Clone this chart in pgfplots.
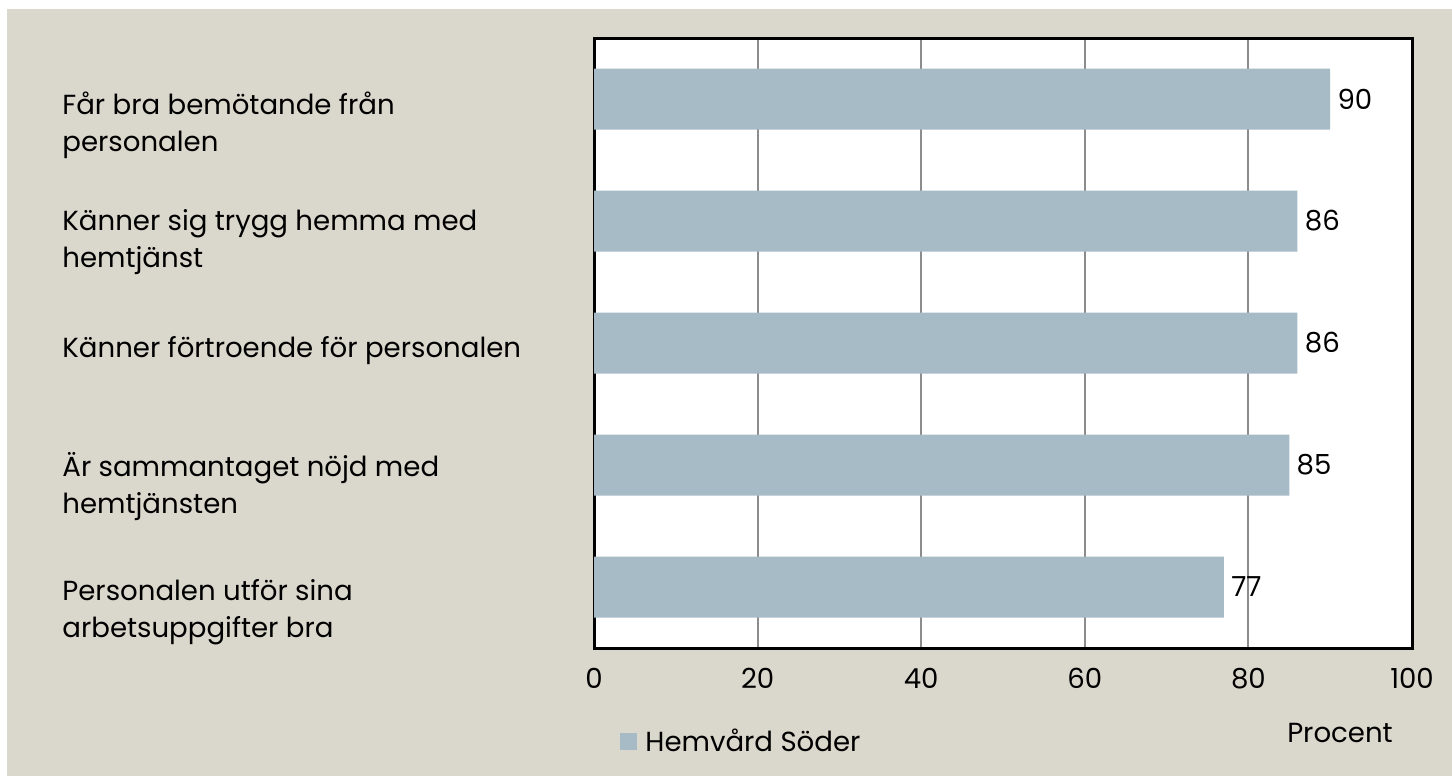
\documentclass[border=0pt]{standalone}
\usepackage{pgfplots}
\pgfplotsset{compat=1.18}
\usepackage{fontspec}
\setmainfont{Poppins}
\definecolor{bgcol}{HTML}{DAD8CC}
\definecolor{barcol}{HTML}{A7BBC7}
\definecolor{gridcol}{HTML}{8C8C8C}
\newcommand{\lblfont}{\fontsize{13.8}{18.5}\selectfont}
\begin{document}
\begin{tikzpicture}[x=0.5pt,y=0.5pt]
  % page and background
  \fill[white] (0,0) rectangle (1452,776);
  \fill[bgcol] (7,0) rectangle (1452,767);
  \begin{axis}[
    at={(297pt,64pt)}, anchor=south west,
    scale only axis, width=409pt, height=305pt,
    xbar, bar width=0.5,
    xmin=0, xmax=100, ymin=-0.5, ymax=4.5,
    y dir=reverse,
    ytick=\empty,
    xtick={0,20,40,60,80,100},
    xmajorgrids, grid style={gridcol, line width=1pt},
    major tick length=0pt,
    axis line style={line width=1.5pt, black},
    axis background/.style={fill=white},
    /pgf/number format/assume math mode=true,
    xticklabel style={font=\lblfont, anchor=north, inner sep=0pt, yshift=-10pt},
    nodes near coords,
    nodes near coords style={font=\lblfont, anchor=west, inner sep=0pt, xshift=3.5pt},
    legend style={draw=none, fill=none, at={(0.0318,-0.154)}, anchor=west,
      inner sep=0pt, font=\lblfont},
    legend image code/.code={\fill[#1] (0pt,-4.25pt) rectangle (8.5pt,4.25pt);
      \path (10.5pt,0pt);},
  ]
    \addplot[fill=barcol, draw=none] coordinates {(90,0) (86,1) (86,2) (85,3) (77,4)};
    \legend{Hemvård Söder}
  \end{axis}
  % category labels
  \begin{scope}[every node/.style={font=\lblfont, anchor=base west, inner sep=0pt}]
    \node at (62,776-115) {Får bra bemötande från};
    \node at (62,776-152) {personalen};
    \node at (62,776-231) {Känner sig trygg hemma med};
    \node at (62,776-268) {hemtjänst};
    \node at (62,776-358) {Känner förtroende för personalen};
    \node at (62,776-477) {Är sammantaget nöjd med};
    \node at (62,776-514) {hemtjänsten};
    \node at (62,776-601) {Personalen utför sina};
    \node at (62,776-638) {arbetsuppgifter bra};
  \end{scope}
  \node[font=\lblfont, anchor=base, inner sep=0pt] at (1340,776-743) {Procent};
\end{tikzpicture}
\end{document}
